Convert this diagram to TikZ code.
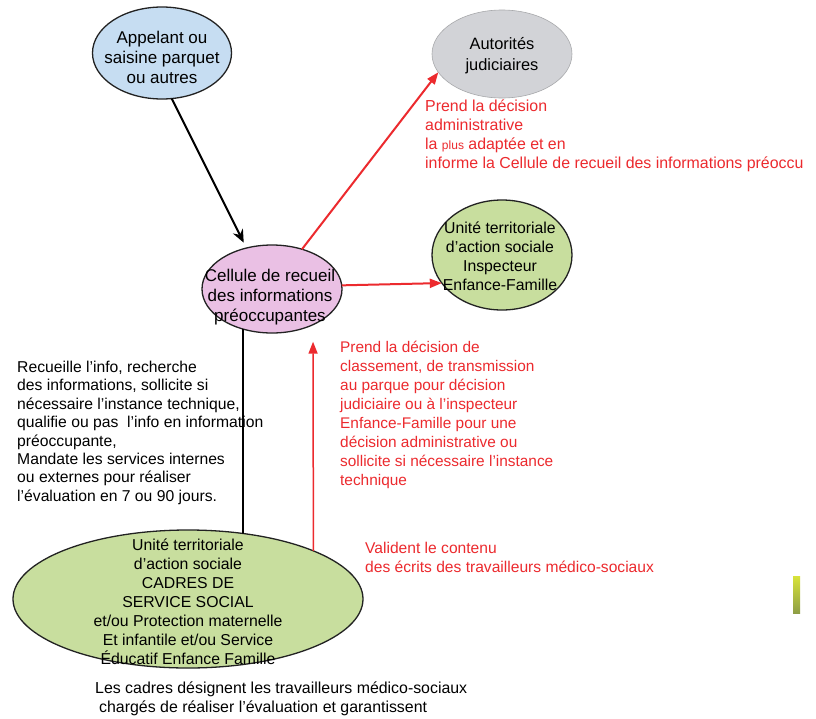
\documentclass[tikz,border=0pt]{standalone}
\usepackage{fontspec}
\setmainfont{Liberation Sans}
\usetikzlibrary{shapes.geometric,arrows.meta}
\definecolor{cblue}{HTML}{C6DDF2}
\definecolor{cgray}{HTML}{D2D3D7}
\definecolor{cpink}{HTML}{EAC0E4}
\definecolor{cgreen}{HTML}{C8DE9E}
\definecolor{cred}{HTML}{EC2A2E}
\definecolor{cedge}{HTML}{222222}
\definecolor{markA}{HTML}{D8E33A}
\definecolor{markB}{HTML}{8E9E45}
\begin{document}
\begin{tikzpicture}[x=1pt,y=-1pt,
  ell/.style={ellipse, draw=cedge, line width=1.3pt, inner sep=0pt, outer sep=0pt},
  ntext/.style={align=center, inner sep=0pt, font=\fontsize{17}{20}\selectfont},
  stext/.style={align=center, inner sep=0pt, font=\fontsize{15.8}{19}\selectfont},
  ann/.style={align=left, anchor=north west, inner sep=0pt, font=\fontsize{15.6}{19}\selectfont},
  redtxt/.style={ann, text=cred},
  blackarrow/.style={draw=black, line width=2pt, -{Stealth[length=13pt,width=11pt]}},
  redarrow/.style={draw=cred, line width=2pt, -{Triangle[length=12pt,width=9pt]}},
  plainline/.style={draw=black, line width=1.8pt}
]
\fill[white] (0,0) rectangle (816,718);
\useasboundingbox (0,0) rectangle (816,718);

% ellipses
\node[ell, fill=cblue, minimum width=139pt, minimum height=92pt] (app) at (162,53) {};
\node[ell, fill=cgray, draw=cgray!80!black, line width=0.6pt, minimum width=140pt, minimum height=88pt] (aut) at (502,54) {};
\node[ell, fill=cpink, minimum width=140pt, minimum height=88pt] (cel) at (272,289) {};
\node[ell, fill=cgreen, minimum width=140pt, minimum height=110pt] (ins) at (502,255) {};
\node[ell, fill=cgreen, minimum width=350pt, minimum height=138pt] (bot) at (188,599) {};

% node texts
\node[ntext] (appt) at (162,57) {Appelant ou\\saisine parquet\\ou autres};
\node[ntext, font=\fontsize{16.4}{21}\selectfont] (autt) at (502,56) {Autorités\\judiciaires};
\node[ntext] (celt) at (270,297) {Cellule de recueil\\des informations\\préoccupantes};
\node[stext] (inst) at (500,256) {Unité territoriale\\d’action sociale\\Inspecteur\\Enfance-Famille};
\node[stext] (bott) at (188,602) {Unité territoriale\\d'action sociale\\CADRES DE\\SERVICE SOCIAL\\et/ou Protection maternelle\\Et infantile et/ou Service\\Éducatif Enfance Famille};

% annotations
\node[redtxt, font=\fontsize{15.9}{19}\selectfont] (r1) at (425,100) {Prend la décision\\administrative\\la {\fontsize{12}{19}\selectfont plus} adaptée et en\\informe la Cellule de recueil des informations préoccu};
\node[redtxt, font=\fontsize{15.4}{19}\selectfont] (r2) at (340,341) {Prend la décision de\\classement, de transmission\\au parque pour décision\\judiciaire ou à l'inspecteur\\Enfance-Famille pour une\\décision administrative ou\\sollicite si nécessaire l’instance\\technique};
\node[redtxt] (r3) at (365,542) {Valident le contenu\\des écrits des travailleurs médico-sociaux};
\node[ann, font=\fontsize{15.7}{18.4}\selectfont] (l1) at (17,361) {Recueille l’info, recherche\\des informations, sollicite si\\nécessaire l’instance technique,\\qualifie ou pas\ \ l’info en information\\préoccupante,\\Mandate les services internes\\ou externes pour réaliser\\l’évaluation en 7 ou 90 jours.};
\node[ann, font=\fontsize{15.9}{18.5}\selectfont] (b1) at (95,682) {Les cadres désignent les travailleurs médico-sociaux\\\hspace{4pt}chargés de réaliser l'évaluation et garantissent};

% connectors
\draw[blackarrow, shorten >=6pt] (app.-78) -- (cel.122);
\draw[redarrow] (cel.53) -- (aut.196);
\draw[redarrow] (cel.3) -- (ins.205);
\draw[plainline] (cel.-126) -- (bot.50);
\draw[redarrow, line width=1.5pt, shorten >=17pt] (bot.21) -- (cel.-41);

% small edge mark
\shade[top color=markA, bottom color=markB] (793,576) rectangle (800,613);
\end{tikzpicture}
\end{document}
